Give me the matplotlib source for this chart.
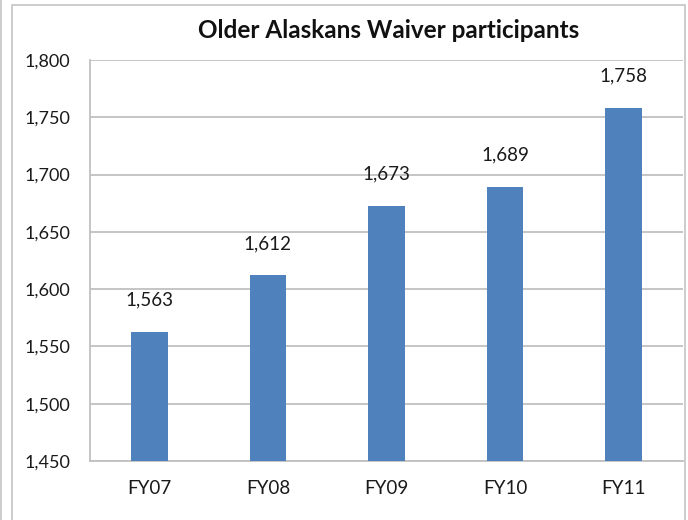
import matplotlib.pyplot as plt
from matplotlib.patches import Rectangle
from matplotlib.lines import Line2D
from matplotlib.ticker import FuncFormatter

years = ["FY07", "FY08", "FY09", "FY10", "FY11"]
participants = [1563, 1612, 1673, 1689, 1758]

plt.rcParams["font.family"] = ["Lato", "DejaVu Sans"]

fig = plt.figure(figsize=(6.88, 5.20), dpi=100)
ax = fig.add_axes([90 / 688, 59 / 520, 593 / 688, 401 / 520])

x = range(len(years))
ax.bar(x, participants, width=0.31, color="#4F81BD", zorder=3)
for xi, v in zip(x, participants):
    ax.annotate(f"{v:,}", (xi, v), xytext=(0, 23), textcoords="offset points",
                ha="center", va="center", fontsize=13.5, color="#1a1a1a")

ax.set_ylim(1450, 1800)
ax.set_yticks(range(1450, 1801, 50))
ax.yaxis.set_major_formatter(FuncFormatter(lambda v, p: f"{int(v):,}"))
ax.set_xlim(-0.5, len(years) - 0.5)
ax.set_xticks(list(x))
ax.set_xticklabels(years)
ax.tick_params(axis="y", length=0, labelsize=13, colors="#1a1a1a", pad=14)
ax.tick_params(axis="x", length=0, labelsize=13.5, colors="#1a1a1a", pad=14)
ax.grid(axis="y", color="#C0C0C0", linewidth=1.3, zorder=0)
for s in ["top", "right"]:
    ax.spines[s].set_visible(False)
for s in ["left", "bottom"]:
    ax.spines[s].set_color("#C0C0C0")
    ax.spines[s].set_linewidth(1.3)

fig.text(389 / 688, 1 - 31 / 520, "Older Alaskans Waiver participants",
         ha="center", va="center", fontsize=17.5, fontweight="bold", color="#111111")

# chart frame
fig.patches.append(Rectangle((12 / 688, -0.05), 673 / 688, 1.05 - 5 / 520,
                             transform=fig.transFigure, fill=False,
                             edgecolor="#C8C8C8", linewidth=1.3))
fig.lines.append(Line2D([1 / 688, 1 / 688], [0, 1], transform=fig.transFigure,
                        color="#C8C8C8", linewidth=1.3))

fig.savefig("out.png", dpi=100)
